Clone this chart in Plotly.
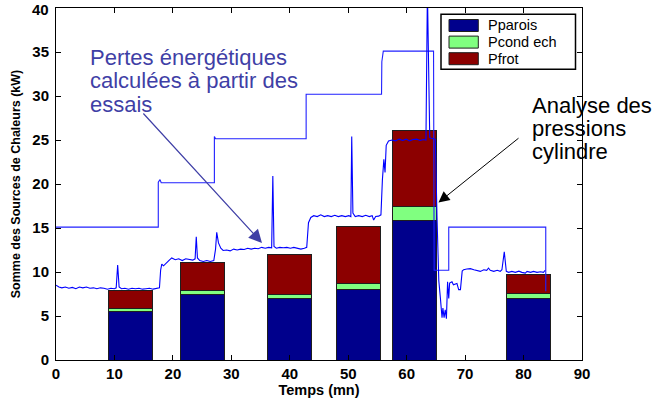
import plotly.graph_objects as go

# Bilan des sources de chaleur par essai (barres empilées, kW)
temps_barres = [12.8, 25.0, 39.9, 51.8, 61.3, 80.9]
p_parois = [5.5, 7.4, 7.0, 8.0, 15.9, 7.0]
p_cond_ech = [0.3, 0.5, 0.4, 0.75, 1.6, 0.55]
p_frot = [2.15, 3.2, 4.6, 6.45, 8.6, 2.15]
noms_series = ["Pparois", "Pcond ech", "Pfrot"]
couleurs_series = ["#00008c", "#80ff80", "#8c0000"]

# Pertes énergétiques calculées à partir des essais (courbe mesurée)
t_mesure = [
    0, 0.5, 1, 1.6, 2.2, 2.8, 3.4, 4, 4.6, 5.2, 5.8, 6.4, 7, 7.6, 8.2, 8.8, 9.4,
    10, 10.3, 10.55, 10.8, 11.2, 11.8, 12.4, 13, 13.6, 14.2, 14.8, 15.4, 16,
    16.6, 17.2, 17.7,
    17.9, 18.1, 18.4, 18.8, 19.3, 19.8, 20.4, 21, 21.6, 22.2, 22.8, 23.4, 23.8,
    24.0, 24.2, 24.6, 25.2, 25.8, 26.4, 27.0,
    27.3, 27.5, 27.8, 28.2, 28.6, 29.2, 29.8, 30.4, 31, 31.6, 32.2, 32.8, 33.4,
    34, 34.6, 35.2, 35.8, 36.4, 36.9, 37.1, 37.3, 37.7, 38.3, 38.9, 39.5, 40.1,
    40.7, 41.3, 41.9, 42.5, 42.9,
    43.2, 43.6, 44.1, 44.7, 45.3, 45.9, 46.5, 47.1, 47.7, 48.3, 48.9, 49.5,
    50.1, 50.45, 50.6, 50.8, 51.2, 51.8, 52.4, 53, 53.6, 54.1, 54.35, 54.7, 55.2,
    55.6, 55.85, 56.1, 56.3, 56.5, 56.9, 57.5, 58.1, 58.7, 59.3, 59.9, 60.5,
    61.1, 61.7, 62.3, 62.9, 63.3, 63.55, 63.95, 64.2, 64.9,
    65.2, 65.5, 65.75, 66.05, 66.2, 66.4, 66.6, 66.8, 67.0, 67.2, 67.35, 67.75,
    68.0, 68.6, 68.9, 69.2, 69.5, 69.75, 70.3, 70.9, 71.5, 72.0, 72.6, 73.2,
    73.7, 74.0, 74.3, 74.9, 75.5, 76.0, 76.3, 76.7, 77.05, 77.45, 78.0, 78.6,
    79.2, 79.7, 80.3, 80.6, 81.2, 81.7, 82.3, 82.9, 83.4, 83.7,
]
p_mesure = [
    8.5, 8.3, 8.2, 8.3, 8.15, 8.25, 8.1, 8.3, 8.2, 8.3, 8.15, 8.2, 8.1, 8.2,
    8.15, 8.05, 8.15, 8.1, 8.2, 10.8, 8.3, 8.1, 8.15, 8.05, 8.15, 8.1, 8.15,
    8.05, 8.1, 8.15, 8.05, 8.1, 8.2,
    10.2, 10.9, 10.7, 11.0, 11.3, 11.6, 11.4, 11.5, 11.3, 11.5, 11.4, 11.35,
    11.5, 14.0, 11.6, 11.3, 11.2, 11.3, 11.2, 11.3,
    12.6, 14.5, 13.3, 12.7, 12.45, 12.5, 12.4, 12.6, 12.5, 12.6, 12.55, 12.7,
    12.6, 12.7, 12.65, 12.8, 12.7, 12.8, 12.75, 20.9, 12.9, 12.7, 12.8, 12.75,
    12.8, 12.7, 12.8, 12.7, 12.6, 12.7, 12.8,
    15.6, 16.2, 16.4, 16.3, 16.5, 16.3, 16.4, 16.3, 16.45, 16.3, 16.4, 16.3,
    16.4, 16.3, 25.4, 16.7, 16.3, 16.4, 16.3, 16.45, 16.3, 16.4, 15.9, 16.3,
    16.35,
    16.5, 20.5, 22.8, 21.3, 24.4, 24.9, 25.0, 24.9, 25.1, 24.95, 25.1, 24.9,
    25.05, 25.1, 24.95, 25.05, 25.0, 42.0, 25.3, 25.2, 25.1,
    16.0, 9.0, 7.2, 4.8, 5.9, 4.8, 5.7, 4.7, 8.9, 7.0, 8.75, 8.9, 8.55, 8.7,
    8.0, 8.0, 10.1, 10.26, 10.34, 10.38, 10.26, 10.19, 10.07, 10.26, 10.19,
    10.45, 10.19, 10.07, 10.19, 10.07, 10.26, 12.3, 10.07, 9.96, 10.07, 9.96,
    10.1, 9.96, 9.88, 10.07, 9.96, 10.07, 9.96, 10.02, 9.96, 10.2,
]

# Courbe en escalier (paliers des essais)
t_paliers = [0, 17.5, 17.5, 17.8, 18.0, 27.1, 27.1, 27.3, 42.8, 42.8, 55.7,
             55.75, 56.0, 64.6, 64.7, 67.2, 67.2, 83.8, 83.8]
p_paliers = [15.1, 15.1, 20.2, 20.5, 20.15, 20.15, 25.4, 25.15, 25.15, 30.2,
             30.2, 33.9, 35.1, 35.1, 10.2, 10.2, 15.1, 15.1, 7.8]

x_ticks = [0, 10, 20, 30, 40, 50, 60, 70, 80, 90]
y_ticks = [0, 5, 10, 15, 20, 25, 30, 35, 40]

titre_x = "Temps (mn)"
titre_y = "Somme des Sources de Chaleurs (kW)"
texte_pertes = ["Pertes énergétiques", "calculées à partir des", "essais"]
texte_pressions = ["Analyse des", "pressions", "cylindre"]

# Mise en page (pixels)
W, H = 656, 399
ML, MR, MT, MB = 56, 74, 8, 39
PW = W - ML - MR
PH = H - MT - MB
X0, X1 = 0, 90
Y0, Y1 = 0, 40
FONT = "Liberation Sans, Arial, sans-serif"


def px_x(px):
    return X0 + (px - ML) / PW * (X1 - X0)


def px_y(py):
    return Y0 + (H - MB - py) / PH * (Y1 - Y0)


def paper_x(px):
    return (px - ML) / PW


def paper_y(py):
    return (H - MB - py) / PH


fig = go.Figure()

for nom, vals, coul in zip(noms_series, [p_parois, p_cond_ech, p_frot], couleurs_series):
    fig.add_trace(go.Bar(
        x=temps_barres, y=vals, name=nom, width=7.5,
        marker=dict(color=coul, line=dict(color="#1e1e1e", width=1)),
        showlegend=False,
    ))

fig.add_trace(go.Scatter(
    x=t_paliers, y=p_paliers, mode="lines",
    line=dict(color="#2020ff", width=1.1), showlegend=False,
))
fig.add_trace(go.Scatter(
    x=t_mesure, y=p_mesure, mode="lines",
    line=dict(color="#0000ff", width=1.1), showlegend=False,
))

annotations = []
shapes = []

# Texte et flèche : pertes énergétiques
bleu_txt = "#3f3fa6"
for i, ligne in enumerate(texte_pertes):
    annotations.append(dict(
        x=px_x(88), y=px_y(57.5 + 23.3 * i), xref="x", yref="y",
        text=ligne, showarrow=False, xanchor="left", yanchor="middle",
        font=dict(family=FONT, size=22, color=bleu_txt),
    ))
annotations.append(dict(
    x=px_x(262), y=px_y(243), xref="x", yref="y",
    ax=px_x(142), ay=px_y(112), axref="x", ayref="y",
    text="", showarrow=True, arrowhead=2, arrowsize=2.2, arrowwidth=1.2,
    arrowcolor=bleu_txt, standoff=0,
))

# Texte et flèche : analyse des pressions cylindre
for i, ligne in enumerate(texte_pressions):
    annotations.append(dict(
        x=px_x(529.5), y=px_y(105 + 23.3 * i), xref="x", yref="y",
        text=ligne, showarrow=False, xanchor="left", yanchor="middle",
        font=dict(family=FONT, size=22, color="#000000"),
    ))
annotations.append(dict(
    x=px_x(438.5), y=px_y(202.5), xref="x", yref="y",
    ax=px_x(520), ay=px_y(137), axref="x", ayref="y",
    text="", showarrow=True, arrowhead=2, arrowsize=2.2, arrowwidth=1,
    arrowcolor="#000000", standoff=0,
))

# Légende
shapes.append(dict(
    type="rect", xref="paper", yref="paper", layer="above",
    x0=paper_x(441), x1=paper_x(575.5), y0=paper_y(69.3), y1=paper_y(14.3),
    line=dict(color="#000000", width=1.5), fillcolor="#ffffff",
))
for i, (nom, coul) in enumerate(zip(noms_series, couleurs_series)):
    yc = 25.5 + 16.6 * i
    shapes.append(dict(
        type="rect", xref="paper", yref="paper", layer="above",
        x0=paper_x(449), x1=paper_x(478.3), y0=paper_y(yc + 6), y1=paper_y(yc - 6),
        line=dict(color="#1e1e1e", width=1), fillcolor=coul,
    ))
    annotations.append(dict(
        x=paper_x(485.5), y=paper_y(yc), xref="paper", yref="paper",
        text=nom, showarrow=False, xanchor="left", yanchor="middle",
        font=dict(family=FONT, size=14.5, color="#000000"),
    ))

# Étiquette du haut de l'axe des ordonnées, posée contre le bord supérieur
annotations.append(dict(
    x=paper_x(51), y=paper_y(9.5), xref="paper", yref="paper",
    text=str(y_ticks[-1]), showarrow=False, xanchor="right", yanchor="middle",
    font=dict(family=FONT, size=15, color="#000000", weight="bold"),
))

fig.update_layout(
    width=W, height=H,
    margin=dict(l=ML, r=MR, t=MT, b=MB, pad=0, autoexpand=False),
    barmode="stack",
    plot_bgcolor="#ffffff", paper_bgcolor="#ffffff",
    font=dict(family=FONT, color="#000000"),
    annotations=annotations, shapes=shapes,
    showlegend=False,
)
fig.update_xaxes(
    range=[X0, X1], tickvals=x_ticks, ticktext=[str(v) for v in x_ticks],
    ticks="inside", ticklen=5, tickwidth=1, tickcolor="#000000",
    showline=True, linecolor="#000000", linewidth=1, mirror="ticks",
    showgrid=False, zeroline=False, automargin=False,
    tickfont=dict(family=FONT, size=15, weight="bold"),
    title=dict(text=titre_x, font=dict(family=FONT, size=14.5, weight="bold"), standoff=1),
)
fig.update_yaxes(
    range=[Y0, Y1], tickvals=y_ticks,
    ticktext=[str(v) for v in y_ticks[:-1]] + [""],
    ticks="inside", ticklen=5, tickwidth=1, tickcolor="#000000",
    showline=True, linecolor="#000000", linewidth=1, mirror="ticks",
    showgrid=False, zeroline=False, automargin=False,
    tickfont=dict(family=FONT, size=15, weight="bold"),
    ticklabelstandoff=3,
    title=dict(text=titre_y, font=dict(family=FONT, size=12.5, weight="bold"), standoff=8),
)

fig.write_html("out.html")
